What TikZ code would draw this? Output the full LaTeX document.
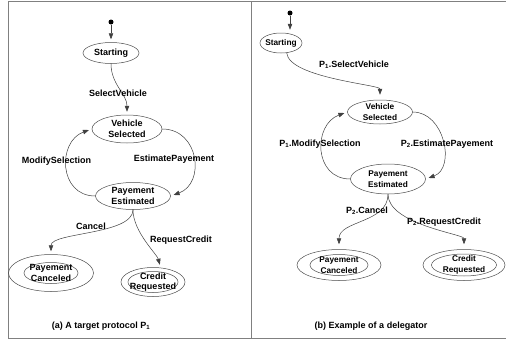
\documentclass[tikz,border=0pt]{standalone}
\usepackage{fontspec}
\setmainfont{Liberation Sans}
\usetikzlibrary{shapes.geometric,arrows.meta}
\begin{document}
\begin{tikzpicture}[x=1pt,y=1pt,
  every node/.style={font=\bfseries\fontsize{9}{10.5}\selectfont},
  st/.style={ellipse, draw=black!70, line width=0.5pt, inner sep=0pt},
  txt/.style={inner sep=0pt, align=center},
  txtb/.style={inner sep=0pt, align=center, font=\bfseries\fontsize{8.3}{10.5}\selectfont},
  lbl/.style={inner sep=0pt},
  edge/.style={draw=black!75, line width=0.5pt, -{Triangle[length=6pt,width=4.5pt]}, shorten >=3pt},
  dot/.style={circle, fill=black, inner sep=0pt, minimum size=5pt},
  frame/.style={draw=black!50, line width=1pt}]
\useasboundingbox (0,0) rectangle (506,-340);
% frames
\draw[frame] (506,-1.5) -- (8,-1.5) -- (8,-338) -- (506,-338);
\draw[frame] (251,-1.5) -- (251,-338);

% ---------- left: target protocol ----------
\node[dot] (d1) at (111,-22) {};
\node[st, minimum width=56pt, minimum height=21pt, label={[txt]center:Starting}] (st1) at (111,-53) {};
\node[st, minimum width=70pt, minimum height=28pt, label={[txt]center:Vehicle\\Selected}] (vs1) at (127,-129) {};
\node[st, minimum width=75pt, minimum height=27pt, label={[txt]center:Payement\\Estimated}] (pe1) at (133,-196) {};
\node[st, minimum width=85pt, minimum height=37pt] (pc1) at (51,-273) {};
\node[st, minimum width=54pt, minimum height=21pt, label={[txt]center:Payement\\Canceled}] (pc1i) at (pc1) {};
\node[st, minimum width=64pt, minimum height=29pt] (cr1) at (153,-282) {};
\node[st, minimum width=50pt, minimum height=21pt, label={[txt]center:Credit\\Requested}] (cr1i) at (cr1) {};

\draw[edge] (d1) -- (st1);
\draw[edge] (st1) to[out=-90,in=90] (vs1);
\draw[edge] (pe1.west) to[out=180,in=200,looseness=1.4] (vs1.west);
\draw[edge] (vs1.east) to[out=0,in=20,looseness=1.4] (pe1.east);
\draw[edge] (pe1) to[out=-90,in=90,out distance=25pt,in distance=22pt] (pc1);
\draw[edge] (pe1.south) to[out=-90,in=105,out distance=22pt,in distance=14pt] (cr1.62);

\node[lbl] (l1) at (118,-93) {SelectVehicle};
\node[lbl] (l2) at (56.5,-161) {ModifySelection};
\node[lbl] (l3) at (174,-159) {EstimatePayement};
\node[lbl] (l4) at (91,-226) {Cancel};
\node[lbl] (l5) at (181,-240) {RequestCredit};
\node[lbl] (capa) at (101,-326) {(a) A target protocol P\textsubscript{1}};

% ---------- right: delegator ----------
\node[dot] (d2) at (290,-13) {};
\node[st, minimum width=42pt, minimum height=20pt, label={[txtb]center:Starting}] (st2) at (281,-43) {};
\node[st, minimum width=65pt, minimum height=24pt, label={[txtb]center:Vehicle\\Selected}] (vs2) at (380,-112) {};
\node[st, minimum width=75pt, minimum height=30pt, label={[txtb]center:Payement\\Estimated}] (pe2) at (388,-179) {};
\node[st, minimum width=84pt, minimum height=31pt] (pc2) at (339,-265) {};
\node[st, minimum width=58pt, minimum height=21pt, label={[txtb]center:Payement\\Canceled}] (pc2i) at (pc2) {};
\node[st, minimum width=82pt, minimum height=31pt] (cr2) at (464,-265) {};
\node[st, minimum width=65pt, minimum height=22pt, label={[txtb]center:Credit\\Requested}] (cr2i) at (cr2) {};

\draw[edge] (d2) -- (st2.north -| d2);
\draw[edge, shorten >=5pt] (st2.-60) to[out=-85,in=90,out distance=25pt,in distance=15pt] (vs2.north);
\draw[edge] (pe2.west) to[out=180,in=200,looseness=1.4] (vs2.west);
\draw[edge] (vs2.east) to[out=0,in=20,looseness=1.2] (pe2.east);
\draw[edge, shorten >=5pt] (pe2) to[out=-90,in=90] (pc2);
\draw[edge, shorten >=5pt] (pe2.south) to[out=-90,in=90,out distance=30pt,in distance=15pt] (cr2.north);

\node[lbl] (r1) at (354,-65) {P\textsubscript{1}.SelectVehicle};
\node[lbl] (r2) at (320,-144) {P\textsubscript{1}.ModifySelection};
\node[lbl] (r3) at (447,-144) {P\textsubscript{2}.EstimatePayement};
\node[lbl] (r4) at (367,-211) {P\textsubscript{2}.Cancel};
\node[lbl] (r5) at (444,-222) {P\textsubscript{2}.RequestCredit};
\node[lbl] (capb) at (371,-326) {(b) Example of a delegator};
\end{tikzpicture}
\end{document}
